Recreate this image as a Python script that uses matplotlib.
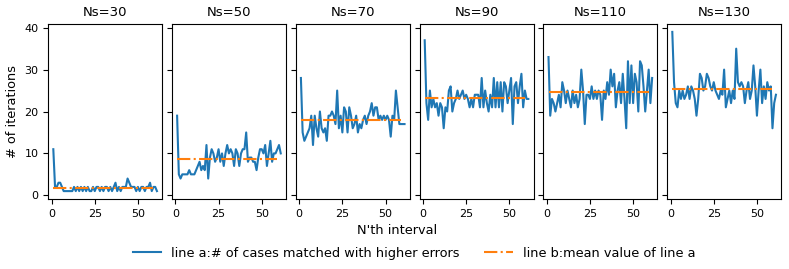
import numpy as np
import matplotlib
matplotlib.use('Agg')
import matplotlib.pyplot as plt

titles = ['Ns=30', 'Ns=50', 'Ns=70', 'Ns=90', 'Ns=110', 'Ns=130']

ns30 = [11, 2, 2, 3, 3, 2, 1, 1, 1, 1, 1, 1, 2, 1, 2, 1, 2, 1, 2, 1,
        2, 1, 1, 2, 1, 2, 2, 1, 2, 1, 2, 2, 1, 2, 1, 2, 3, 1, 2, 1,
        2, 2, 2, 4, 3, 2, 2, 2, 1, 2, 1, 2, 2, 1, 2, 2, 3, 1, 2, 2, 1]
ns50 = [19, 5, 4, 5, 5, 5, 5, 6, 5, 5, 5, 6, 7, 8, 6, 7, 6, 12, 4, 9,
        11, 10, 8, 9, 11, 8, 10, 7, 10, 12, 10, 11, 10, 7, 11, 10, 7, 10, 11, 11,
        15, 8, 9, 9, 8, 8, 6, 9, 11, 11, 10, 12, 7, 10, 13, 8, 10, 10, 11, 12, 10]
ns70 = [28, 15, 13, 14, 15, 16, 19, 12, 19, 16, 14, 20, 16, 15, 16, 13, 19, 19, 20, 19,
        17, 25, 16, 19, 15, 21, 20, 15, 21, 19, 16, 17, 19, 15, 17, 16, 18, 19, 17, 19,
        20, 22, 19, 21, 21, 18, 19, 18, 19, 18, 19, 18, 14, 19, 18, 25, 21, 17, 17, 17, 17]
ns90 = [37, 22, 18, 25, 21, 23, 21, 22, 19, 22, 21, 16, 21, 20, 25, 26, 20, 22, 23, 25,
        23, 24, 25, 23, 24, 23, 21, 23, 21, 24, 24, 24, 21, 28, 21, 25, 22, 20, 24, 21,
        28, 21, 27, 21, 27, 20, 27, 26, 22, 25, 28, 17, 26, 27, 22, 26, 29, 21, 25, 23, 23]
ns110 = [33, 19, 23, 22, 20, 22, 24, 21, 27, 25, 22, 25, 23, 21, 25, 22, 24, 21, 23, 30,
         25, 17, 24, 24, 23, 26, 23, 25, 23, 25, 24, 18, 25, 23, 27, 24, 30, 26, 29, 21,
         25, 27, 22, 29, 23, 16, 32, 22, 31, 22, 29, 27, 20, 32, 31, 26, 20, 25, 30, 22, 28]
ns130 = [39, 27, 22, 21, 25, 23, 25, 23, 24, 26, 23, 26, 25, 23, 19, 23, 29, 28, 25, 26,
         29, 28, 26, 25, 27, 25, 24, 23, 25, 24, 30, 21, 23, 25, 22, 25, 23, 35, 27, 26,
         27, 26, 22, 25, 27, 23, 25, 31, 26, 19, 25, 30, 22, 26, 23, 27, 25, 26, 16, 22, 24]
means = [1.8, 8.7, 17.9, 23.3, 24.7, 25.4]

series = [ns30, ns50, ns70, ns90, ns110, ns130]

fig, axes = plt.subplots(1, 6, figsize=(7.89, 2.69), dpi=100, sharey=True)
fig.subplots_adjust(left=0.061, right=0.990, top=0.911, bottom=0.260, wspace=0.086)

for ax, title, ys, m in zip(axes, titles, series, means):
    x = np.arange(1, len(ys) + 1)
    la, = ax.plot(x, ys, color='C0', label='line a:# of cases matched with higher errors')
    lb, = ax.plot([1, 59], [m, m], '-.', color='C1', label='line b:mean value of line a')
    ax.set_title(title, fontsize=9.5)
    ax.set_xticks([0, 25, 50])
    ax.tick_params(labelsize=8)

axes[0].set_ylabel('# of iterations', fontsize=9.3)
fig.text(0.503, 0.13, "N'th interval", ha='center', fontsize=9.3)
fig.legend(handles=[la, lb], loc='lower center', ncol=2, frameon=False,
           bbox_to_anchor=(0.525, -0.008), fontsize=9.3, columnspacing=1.9,
           handlelength=2.2)

plt.savefig('out.png')
